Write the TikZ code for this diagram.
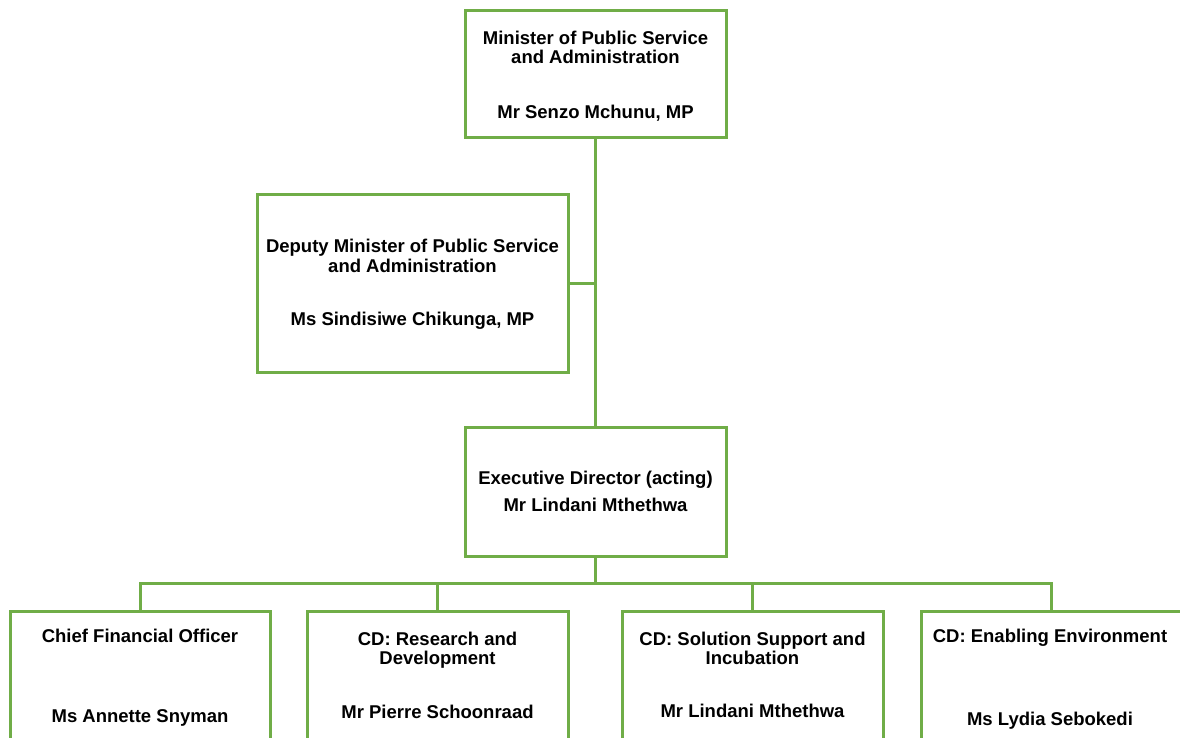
\documentclass[tikz,border=0pt]{standalone}
\usepackage{fontspec}
\setmainfont{Liberation Sans}
\definecolor{grn}{HTML}{70AD47}
\begin{document}
\begin{tikzpicture}[x=1pt,y=-1pt,
  box/.style={draw=grn,line width=3pt,rectangle,inner sep=0pt},
  conn/.style={draw=grn,line width=3pt},
  txt/.style={anchor=base,inner sep=0pt,font=\fontsize{18.5}{22}\selectfont\bfseries}]
\useasboundingbox (0,0) rectangle (1180,737);
\clip (0,0) rectangle (1180,737);
% boxes
\node[box,minimum width=261pt,minimum height=127pt] (top) at (595.5,73.5) {};
\node[box,minimum width=311pt,minimum height=178pt] (dep) at (412.5,283) {};
\node[box,minimum width=261pt,minimum height=129pt] (exec) at (595.5,491.5) {};
\node[box,minimum width=260pt,minimum height=260pt] (b1) at (140,741) {};
\node[box,minimum width=261pt,minimum height=260pt] (b2) at (437.5,741) {};
\node[box,minimum width=261pt,minimum height=260pt] (b3) at (752.5,741) {};
\node[box,minimum width=261pt,minimum height=260pt] (b4) at (1051.5,741) {};
% connectors
\coordinate (bus) at (595.5,583);
\draw[conn] (top.south) -- (exec.north);
\draw[conn] (dep.east) -- (dep.east -| top.south);
\draw[conn] (exec.south) -- (bus);
\draw[conn] (b1.north) |- (bus);
\draw[conn] (b2.north) |- (bus);
\draw[conn] (b3.north) |- (bus);
\draw[conn] (b4.north) |- (bus);
% texts
\node[txt] (t1a) at (595.5,44) {Minister of Public Service};
\node[txt] (t1b) at (595.5,63) {and Administration};
\node[txt] (t1c) at (595.5,118) {Mr Senzo Mchunu, MP};
\node[txt] (t2a) at (412.5,252) {Deputy Minister of Public Service};
\node[txt] (t2b) at (412.5,272) {and Administration};
\node[txt] (t2c) at (412.5,325) {Ms Sindisiwe Chikunga, MP};
\node[txt] (t3a) at (595.5,484) {Executive Director (acting)};
\node[txt] (t3b) at (595.5,511) {Mr Lindani Mthethwa};
\node[txt] (t4a) at (140,642) {Chief Financial Officer};
\node[txt] (t4b) at (140,722) {Ms Annette Snyman};
\node[txt] (t5a) at (437.5,645) {CD: Research and};
\node[txt] (t5b) at (437.5,664) {Development};
\node[txt] (t5c) at (437.5,718) {Mr Pierre Schoonraad};
\node[txt] (t6a) at (752.5,645) {CD: Solution Support and};
\node[txt] (t6b) at (752.5,664) {Incubation};
\node[txt] (t6c) at (752.5,717) {Mr Lindani Mthethwa};
\node[txt] (t7a) at (1050,642) {CD: Enabling Environment};
\node[txt] (t7b) at (1050,725) {Ms Lydia Sebokedi};
\end{tikzpicture}
\end{document}
